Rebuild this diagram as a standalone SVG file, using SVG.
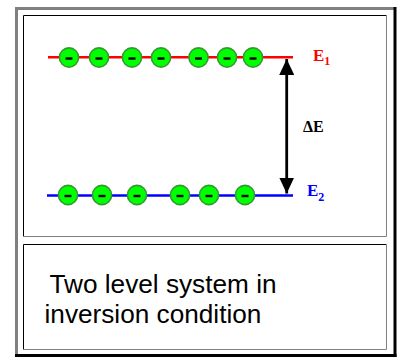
<svg xmlns="http://www.w3.org/2000/svg" width="398" height="358" viewBox="0 0 398 358">
  <defs>
    <style>
      .e circle { fill: #00ff00; stroke: #339933; stroke-width: 1.6; }
      .e rect { fill: #000; }
      .lbl { font-family: "Liberation Serif", "Times New Roman", serif; font-weight: bold; }
      .cap { font-family: "Liberation Sans", Arial, sans-serif; font-size: 26.2px; fill: #000; }
    </style>
    <g id="el" class="e">
      <circle cx="0" cy="0" r="9.6"/>
      <rect x="-3.5" y="-0.2" width="7" height="2.4"/>
    </g>
    <marker id="ah" viewBox="0 0 16 15" refX="16" refY="7.5" markerWidth="16" markerHeight="15" markerUnits="userSpaceOnUse" orient="auto-start-reverse">
      <path d="M0,0 L16,7.5 L0,15 Z" fill="#000"/>
    </marker>
  </defs>
  <rect width="398" height="358" fill="#fff"/>
  <g id="frame">
    <rect x="15" y="7" width="379" height="3" fill="#808080"/>
    <rect x="15" y="7" width="3" height="347" fill="#808080"/>
    <rect x="393.5" y="7" width="3" height="350" fill="#000"/>
    <rect x="15" y="354" width="381.5" height="3" fill="#000"/>
    <path d="M23.5,236.5 V15.5 H386.5" fill="none" stroke="#000" stroke-width="1"/>
    <path d="M23.5,236.5 H386.5 V15.5" fill="none" stroke="#808080" stroke-width="1"/>
    <path d="M23.5,349.5 V244.5 H386.5" fill="none" stroke="#000" stroke-width="1"/>
    <path d="M23.5,349.5 H386.5 V244.5" fill="none" stroke="#808080" stroke-width="1"/>
  </g>
  <g id="level-E1">
    <line x1="48" y1="57.3" x2="293" y2="57.3" stroke="#ff0000" stroke-width="2.5"/>
    <use href="#el" x="69" y="57.5"/>
    <use href="#el" x="99" y="57.5"/>
    <use href="#el" x="132" y="57.5"/>
    <use href="#el" x="161" y="57.5"/>
    <use href="#el" x="198.5" y="57.5"/>
    <use href="#el" x="227" y="57.5"/>
    <use href="#el" x="253" y="57.5"/>
    <text class="lbl" x="313" y="60.5" font-size="17" fill="#ff0000">E<tspan font-size="12" dy="4">1</tspan></text>
  </g>
  <g id="level-E2">
    <line x1="47" y1="195.5" x2="293" y2="195.5" stroke="#0000ff" stroke-width="2.5"/>
    <use href="#el" x="68" y="195"/>
    <use href="#el" x="102" y="195"/>
    <use href="#el" x="137" y="195"/>
    <use href="#el" x="180" y="195"/>
    <use href="#el" x="209" y="195"/>
    <use href="#el" x="245" y="195"/>
    <text class="lbl" x="307" y="196" font-size="17" fill="#0000ff">E<tspan font-size="12" dy="4.5">2</tspan></text>
  </g>
  <g id="connectors">
    <line x1="286.7" y1="59" x2="286.7" y2="193.5" stroke="#000" stroke-width="2.8" marker-start="url(#ah)" marker-end="url(#ah)"/>
  </g>
  <g id="delta-E">
    <text class="lbl" x="303" y="132.3" font-size="16" fill="#000">ΔE</text>
  </g>
  <g id="caption">
    <text class="cap" x="49.5" y="292.5">Two level system in</text>
    <text class="cap" x="44.5" y="323">inversion condition</text>
  </g>
</svg>
